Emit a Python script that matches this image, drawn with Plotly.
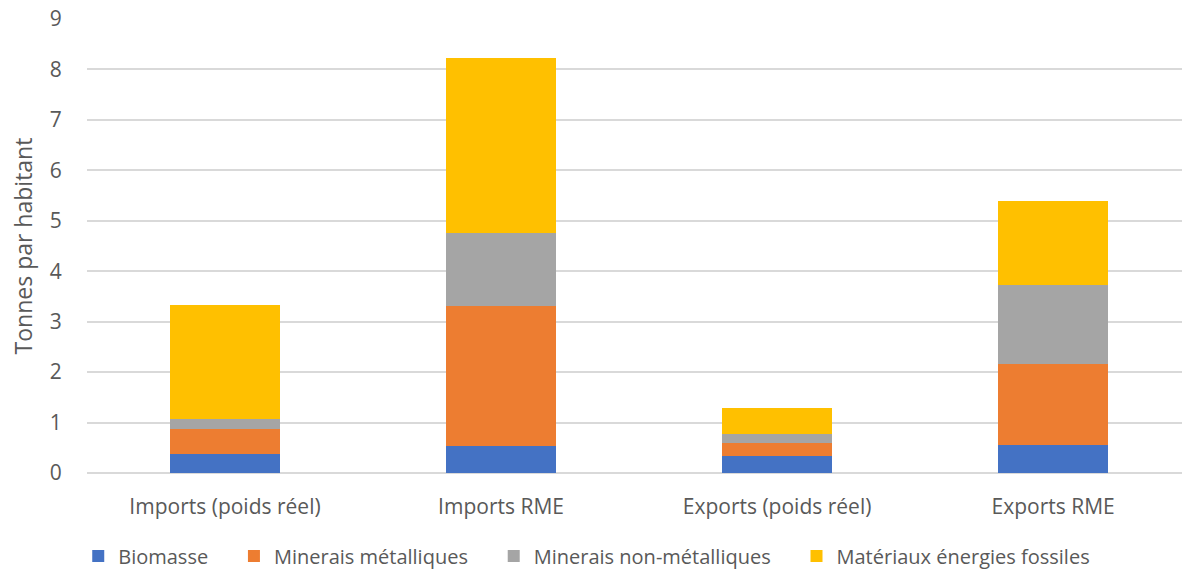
import plotly.graph_objects as go

categories = ["Imports (poids réel)", "Imports RME", "Exports (poids réel)", "Exports RME"]
biomasse = [0.38, 0.54, 0.34, 0.56]
minerais_metal = [0.50, 2.78, 0.25, 1.60]
minerais_non_metal = [0.19, 1.44, 0.19, 1.56]
fossiles = [2.26, 3.47, 0.50, 1.68]

series = [
    ("Biomasse", biomasse, "#4472C4"),
    ("Minerais métalliques", minerais_metal, "#ED7D31"),
    ("Minerais non-métalliques", minerais_non_metal, "#A5A5A5"),
    ("Matériaux énergies fossiles", fossiles, "#FFC000"),
]

font_family = "Open Sans"
text_color = "#595959"
fs = 20
pad = "\u00a0" * 4  # extra room between legend entries

fig = go.Figure()
for i, (name, vals, color) in enumerate(series):
    fig.add_trace(go.Bar(
        x=categories, y=vals,
        name=name + (pad if i < len(series) - 1 else ""),
        marker=dict(color=color, line=dict(width=0)),
        width=0.4,
    ))

fig.update_layout(
    barmode="stack",
    width=1182, height=569,
    margin=dict(l=87, r=0, t=19, b=96, autoexpand=False),
    plot_bgcolor="white", paper_bgcolor="white",
    font=dict(family=font_family, size=fs, color=text_color),
    showlegend=True,
    legend=dict(
        orientation="h", x=-0.008, xanchor="left", y=-0.14, yanchor="top",
        font=dict(size=fs, color=text_color),
        traceorder="normal",
        itemwidth=30,
    ),
    xaxis=dict(
        range=[-0.5, 3.467], showgrid=False, showline=False, automargin=False,
        ticks="outside", ticklen=15, tickcolor="rgba(0,0,0,0)",
        tickfont=dict(size=21, color=text_color),
    ),
    yaxis=dict(
        range=[0, 9], dtick=1, showgrid=True, gridcolor="#D9D9D9", gridwidth=1.5,
        zeroline=True, zerolinecolor="#D9D9D9", zerolinewidth=1.5, automargin=False,
        ticks="outside", ticklen=20, tickcolor="rgba(0,0,0,0)",
        tickfont=dict(size=21, color=text_color),
        title=dict(text="Tonnes par habitant", font=dict(size=23, color=text_color), standoff=10),
    ),
)

fig.write_html("out.html")
